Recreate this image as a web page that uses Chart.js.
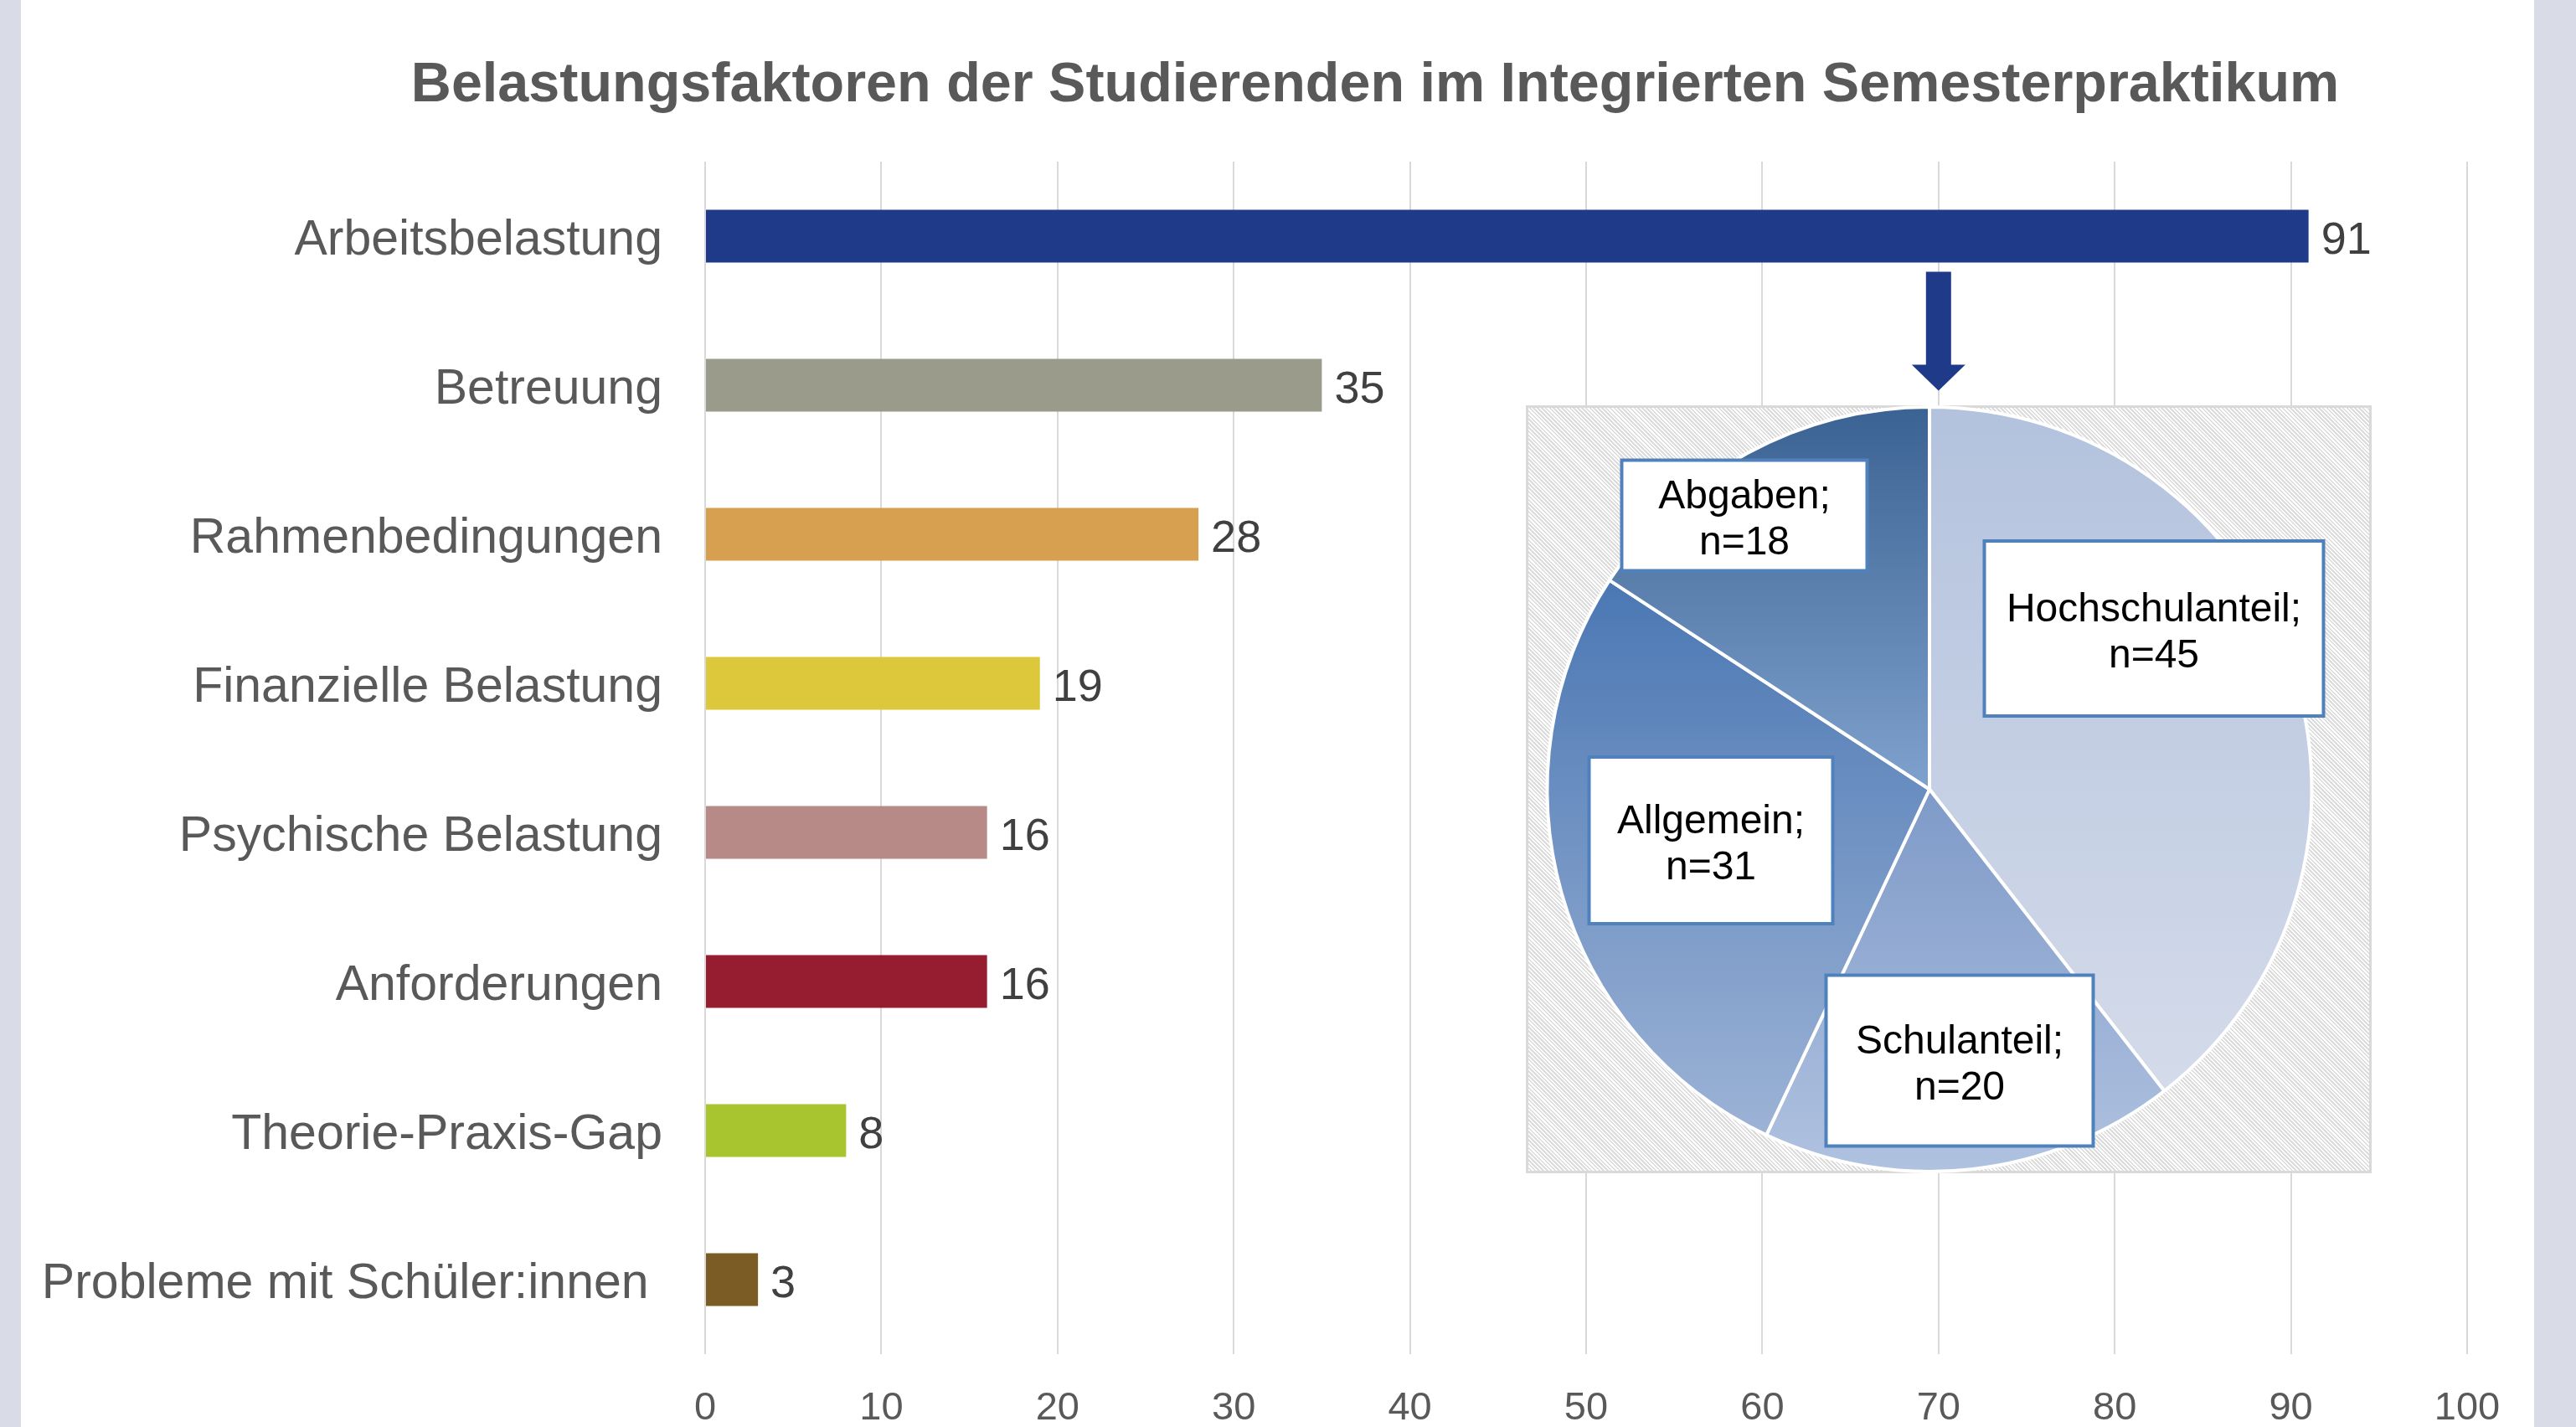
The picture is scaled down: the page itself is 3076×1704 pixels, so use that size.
<!DOCTYPE html>
<html>
<head>
<meta charset="utf-8">
<script src="https://cdn.jsdelivr.net/npm/chart.js@4.4.0/dist/chart.umd.min.js"></script>
<style>
    html, body { margin: 0; padding: 0; }
    body {
        width: 3076px; height: 1704px; position: relative; overflow: hidden;
        background: linear-gradient(to right, #D9DCE6 0, #D9DCE6 25px, #fff 25px, #fff 3026px, #D9DCE6 3026px);
    }
    #barChart { position: absolute; left: 0; top: 0; }
    #pieBox {
        position: absolute; left: 1822px; top: 484px; width: 1010px; height: 917px;
        box-sizing: border-box; border: 3px solid #D9D9D9;
        background: repeating-linear-gradient(45deg, #fff 0 1.6px, #dcdcdc 1.6px 3.4px);
    }
    #pieChart { position: absolute; left: 1825px; top: 484px; }
</style>
</head>
<body>
<canvas id="barChart" width="3076" height="1704"></canvas>
<div id="pieBox"></div>
<canvas id="pieChart" width="1004" height="917"></canvas>
<script>
// --- Bar data ---
const categories = ['Arbeitsbelastung', 'Betreuung', 'Rahmenbedingungen', 'Finanzielle Belastung',
    'Psychische Belastung', 'Anforderungen', 'Theorie-Praxis-Gap', 'Probleme mit Schüler:innen '];
const counts = [91, 35, 28, 19, 16, 16, 8, 3];
const barColors = ['#1F3A88', '#9A9B8A', '#D6A050', '#DDC83B', '#B78A88', '#961C30', '#A8C42E', '#7A5C24'];

// --- Pie data (breakdown of Arbeitsbelastung) ---
const pieLabels = ['Hochschulanteil', 'Schulanteil', 'Allgemein', 'Abgaben'];
const pieCounts = [45, 20, 31, 18];
const arrowValue = 70;

const titleText = 'Belastungsfaktoren der Studierenden im Integrierten Semesterpraktikum';

Chart.defaults.font.family = "'Liberation Sans', Arial, sans-serif";

// slice gradient colours (top -> bottom)
const sliceTop = ['#B3C2DD', '#7E9AC8', '#4A77B3', '#3A6292'];
const sliceBottom = ['#D4DBEA', '#B0C2E0', '#9DB3D6', '#7FA1CD'];

// label boxes: centre offset from pie centre, box size
const labelBoxes = [
    { dx: 268, dy: -192, w: 405, h: 209 },
    { dx: 36, dy: 324, w: 319, h: 204 },
    { dx: -261, dy: 61, w: 291, h: 199 },
    { dx: -221, dy: -327, w: 293, h: 132 }
];

const titlePlugin = {
    id: 'titlePlugin',
    afterDraw(chart) {
        const ctx = chart.ctx;
        ctx.save();
        ctx.font = "bold 66.5px 'Liberation Sans', Arial";
        ctx.fillStyle = '#595959';
        ctx.textAlign = 'center';
        ctx.textBaseline = 'alphabetic';
        ctx.fillText(titleText, 1642, 121);
        ctx.restore();
    }
};

const valueLabels = {
    id: 'valueLabels',
    afterDatasetsDraw(chart) {
        const ctx = chart.ctx;
        const meta = chart.getDatasetMeta(0);
        ctx.save();
        ctx.font = "54px 'Liberation Sans', Arial";
        ctx.fillStyle = '#404040';
        ctx.textAlign = 'left';
        ctx.textBaseline = 'middle';
        meta.data.forEach((bar, i) => {
            ctx.fillText(counts[i], bar.x + 15, bar.y + 6);
        });
        ctx.restore();
    }
};

const arrowPlugin = {
    id: 'arrowPlugin',
    afterDraw(chart) {
        const ctx = chart.ctx;
        const x = chart.scales.x.getPixelForValue(arrowValue);
        const bar = chart.getDatasetMeta(0).data[0];
        const top = bar.y + bar.height / 2 + 11;
        const tip = top + 142;
        const headStart = tip - 31;
        ctx.save();
        ctx.fillStyle = '#1F3A88';
        ctx.fillRect(x - 15, top, 30, headStart - top + 1);
        ctx.beginPath();
        ctx.moveTo(x - 32, headStart);
        ctx.lineTo(x + 32, headStart);
        ctx.lineTo(x, tip);
        ctx.closePath();
        ctx.fill();
        ctx.restore();
    }
};

new Chart(document.getElementById('barChart'), {
    type: 'bar',
    data: {
        labels: categories,
        datasets: [{
            data: counts,
            backgroundColor: barColors,
            barPercentage: 0.354,
            categoryPercentage: 1
        }]
    },
    options: {
        indexAxis: 'y',
        responsive: false,
        animation: false,
        layout: { padding: { top: 193, right: 130, left: 0, bottom: 0 } },
        scales: {
            x: {
                min: 0,
                max: 100,
                ticks: { stepSize: 10, color: '#595959', font: { size: 47 }, padding: 37 },
                grid: { color: '#D9D9D9', lineWidth: 2, drawTicks: false },
                border: { display: false },
                afterFit: function(scale) { scale.height = 87; }
            },
            y: {
                grid: { display: false },
                border: { display: false },
                ticks: { color: '#595959', font: { size: 59 }, padding: 43, labelOffset: 6 },
                afterFit: function(scale) { scale.width = 842; }
            }
        },
        plugins: {
            legend: { display: false },
            tooltip: { enabled: false }
        }
    },
    plugins: [titlePlugin, valueLabels, arrowPlugin]
});

// vertical gradient covering the y-range of one slice
function sliceGradient(context) {
    const i = context.dataIndex;
    const chart = context.chart;
    const area = chart.chartArea;
    if (i === undefined || !area) return sliceTop[0];
    const cy = (area.top + area.bottom) / 2;
    const r = Math.min(area.right - area.left, area.bottom - area.top) / 2;
    const total = pieCounts.reduce((a, b) => a + b, 0);
    let start = 0;
    for (let k = 0; k < i; k++) start += pieCounts[k];
    const a0 = -Math.PI / 2 + start / total * 2 * Math.PI;
    const a1 = a0 + pieCounts[i] / total * 2 * Math.PI;
    let yMin = cy, yMax = cy;
    for (let s = 0; s <= 60; s++) {
        const y = cy + r * Math.sin(a0 + (a1 - a0) * s / 60);
        yMin = Math.min(yMin, y);
        yMax = Math.max(yMax, y);
    }
    const g = chart.ctx.createLinearGradient(0, yMin, 0, yMax);
    g.addColorStop(0, sliceTop[i]);
    g.addColorStop(1, sliceBottom[i]);
    return g;
}

const pieLabelPlugin = {
    id: 'pieLabelPlugin',
    afterDatasetsDraw(chart) {
        const ctx = chart.ctx;
        const arcs = chart.getDatasetMeta(0).data;
        ctx.save();
        ctx.font = "48px 'Liberation Sans', Arial";
        ctx.textAlign = 'center';
        ctx.textBaseline = 'middle';
        arcs.forEach((arc, i) => {
            const b = labelBoxes[i];
            const bx = arc.x + b.dx, by = arc.y + b.dy;
            ctx.fillStyle = '#fff';
            ctx.fillRect(bx - b.w / 2, by - b.h / 2, b.w, b.h);
            ctx.strokeStyle = '#4F81BD';
            ctx.lineWidth = 4;
            ctx.strokeRect(bx - b.w / 2, by - b.h / 2, b.w, b.h);
            ctx.fillStyle = '#000';
            ctx.fillText(pieLabels[i] + ';', bx, by - 22);
            ctx.fillText('n=' + pieCounts[i], bx, by + 33);
        });
        ctx.restore();
    }
};

new Chart(document.getElementById('pieChart'), {
    type: 'pie',
    data: {
        labels: pieLabels,
        datasets: [{
            data: pieCounts,
            backgroundColor: sliceGradient,
            borderColor: '#ffffff',
            borderWidth: 4
        }]
    },
    options: {
        responsive: false,
        animation: false,
        layout: { padding: { right: 46 } },
        plugins: {
            legend: { display: false },
            tooltip: { enabled: false }
        }
    },
    plugins: [pieLabelPlugin]
});
</script>
</body>
</html>
